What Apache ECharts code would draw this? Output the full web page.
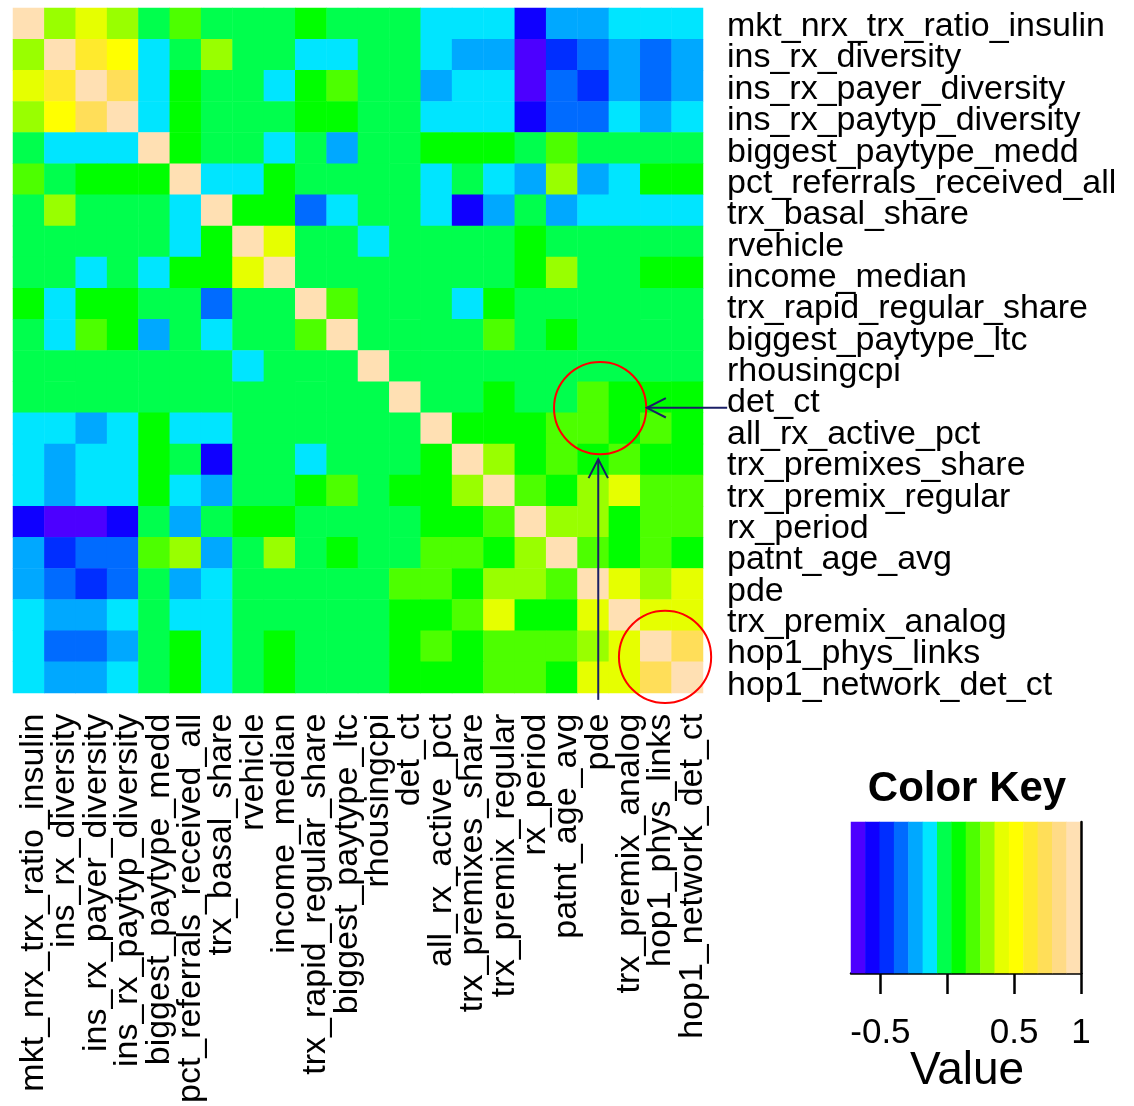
<!DOCTYPE html>
<html>
<head>
<meta charset="utf-8">
<script src="https://cdn.jsdelivr.net/npm/echarts@6/dist/echarts.min.js"></script>
<style>
html,body{margin:0;padding:0;background:#ffffff;}
#c{width:1134px;height:1106px;}
</style>
</head>
<body>
<div id="c"></div>
<script>
const varNames = [
  "mkt_nrx_trx_ratio_insulin","ins_rx_diversity","ins_rx_payer_diversity","ins_rx_paytyp_diversity",
  "biggest_paytype_medd","pct_referrals_received_all","trx_basal_share","rvehicle","income_median",
  "trx_rapid_regular_share","biggest_paytype_ltc","rhousingcpi","det_ct","all_rx_active_pct",
  "trx_premixes_share","trx_premix_regular","rx_period","patnt_age_avg","pde","trx_premix_analog",
  "hop1_phys_links","hop1_network_det_ct"
];

// correlation matrix (rows top -> bottom, columns left -> right)
const corr = [
  [1,.30,.41,.30,-.02,.19,-.02,-.02,-.02,.08,-.02,-.02,-.02,-.13,-.13,-.13,-.56,-.24,-.24,-.13,-.13,-.13],
  [.30,1,.62,.52,-.13,-.02,.30,-.02,-.02,-.13,-.13,-.02,-.02,-.13,-.24,-.24,-.66,-.45,-.34,-.24,-.34,-.24],
  [.41,.62,1,.73,-.13,.08,-.02,-.02,-.13,.08,.19,-.02,-.02,-.24,-.13,-.13,-.66,-.34,-.45,-.24,-.34,-.24],
  [.30,.52,.73,1,-.13,.08,-.02,-.02,-.02,.08,.08,-.02,-.02,-.13,-.13,-.13,-.56,-.34,-.34,-.13,-.24,-.13],
  [-.02,-.13,-.13,-.13,1,.08,-.02,-.02,-.13,-.02,-.24,-.02,-.02,.08,.08,.08,-.02,.19,-.02,-.02,-.02,-.02],
  [.19,-.02,.08,.08,.08,1,-.13,-.13,.08,-.02,-.02,-.02,-.02,-.13,-.02,-.13,-.24,.30,-.24,-.13,.08,.08],
  [-.02,.30,-.02,-.02,-.02,-.13,1,.08,.08,-.34,-.13,-.02,-.02,-.13,-.56,-.24,-.02,-.24,-.13,-.13,-.13,-.13],
  [-.02,-.02,-.02,-.02,-.02,-.13,.08,1,.41,-.02,-.02,-.13,-.02,-.02,-.02,-.02,.08,-.02,-.02,-.02,-.02,-.02],
  [-.02,-.02,-.13,-.02,-.13,.08,.08,.41,1,-.02,-.02,-.02,-.02,-.02,-.02,-.02,.08,.30,-.02,-.02,.08,.08],
  [.08,-.13,.08,.08,-.02,-.02,-.34,-.02,-.02,1,.19,-.02,-.02,-.02,-.13,.08,-.02,-.02,-.02,-.02,-.02,-.02],
  [-.02,-.13,.19,.08,-.24,-.02,-.13,-.02,-.02,.19,1,-.02,-.02,-.02,-.02,.19,-.02,.08,-.02,-.02,-.02,-.02],
  [-.02,-.02,-.02,-.02,-.02,-.02,-.02,-.13,-.02,-.02,-.02,1,-.02,-.02,-.02,-.02,-.02,-.02,-.02,-.02,-.02,-.02],
  [-.02,-.02,-.02,-.02,-.02,-.02,-.02,-.02,-.02,-.02,-.02,-.02,1,-.02,-.02,.08,-.02,-.02,.19,.08,.08,.08],
  [-.13,-.13,-.24,-.13,.08,-.13,-.13,-.02,-.02,-.02,-.02,-.02,-.02,1,.08,.08,.08,.19,.19,.08,.19,.08],
  [-.13,-.24,-.13,-.13,.08,-.02,-.56,-.02,-.02,-.13,-.02,-.02,-.02,.08,1,.30,.08,.19,.08,.19,.08,.08],
  [-.13,-.24,-.13,-.13,.08,-.13,-.24,-.02,-.02,.08,.19,-.02,.08,.08,.30,1,.19,.08,.30,.41,.19,.19],
  [-.56,-.66,-.66,-.56,-.02,-.24,-.02,.08,.08,-.02,-.02,-.02,-.02,.08,.08,.19,1,.30,.30,.08,.19,.19],
  [-.24,-.45,-.34,-.34,.19,.30,-.24,-.02,.30,-.02,.08,-.02,-.02,.19,.19,.08,.30,1,.19,.08,.19,.08],
  [-.24,-.34,-.45,-.34,-.02,-.24,-.13,-.02,-.02,-.02,-.02,-.02,.19,.19,.08,.30,.30,.19,1,.41,.30,.41],
  [-.13,-.24,-.24,-.13,-.02,-.13,-.13,-.02,-.02,-.02,-.02,-.02,.08,.08,.19,.41,.08,.08,.41,1,.41,.41],
  [-.13,-.34,-.34,-.24,-.02,.08,-.13,-.02,.08,-.02,-.02,-.02,.08,.19,.08,.19,.19,.19,.30,.41,1,.73],
  [-.13,-.24,-.24,-.13,-.02,.08,-.13,-.02,.08,-.02,-.02,-.02,.08,.08,.08,.19,.19,.08,.41,.41,.73,1]
];

// colour key: 16 bins (topo.colors(16))
const keyBreaks = [-0.72,-0.6125,-0.505,-0.3975,-0.29,-0.1825,-0.075,0.0325,0.14,0.2475,0.355,0.4625,0.57,0.6775,0.785,0.8925,1.0];
const keyColors = ["#4C00FF","#0F00FF","#002EFF","#006BFF","#00A8FF","#00E5FF","#00FF4D","#00FF00",
                   "#4DFF00","#99FF00","#E6FF00","#FFFF00","#FFEA2D","#FFDE59","#FFDB86","#FFE0B3"];
const keyTicks = [-0.5, 0, 0.5, 1];
const keyTickLabels = [-0.5, 0.5, 1];

const FONT = "'Liberation Sans', Arial, Helvetica, sans-serif";

const heatData = [];
for (let r = 0; r < corr.length; r++) {
  for (let c = 0; c < corr[r].length; c++) {
    heatData.push([c, r, corr[r][c]]);
  }
}
const keyData = keyColors.map((col, i) => [i, 0, (keyBreaks[i] + keyBreaks[i + 1]) / 2]);

const pieces = keyColors.map((col, i) => {
  const p = { gte: keyBreaks[i], color: col };
  if (i === keyColors.length - 1) p.lte = keyBreaks[i + 1]; else p.lt = keyBreaks[i + 1];
  return p;
});

const chart = echarts.init(document.getElementById('c'), null, { renderer: 'canvas' });

const hidden = { show: false };
const option = {
  animation: false,
  backgroundColor: '#ffffff',
  textStyle: { fontFamily: FONT },
  grid: [
    { left: 13, top: 8, width: 690, height: 685 },      // heatmap
    { left: 851, top: 822, width: 230, height: 151 },   // colour key
    { left: 18, top: 8, width: 690, height: 685 },      // column labels
    { left: 13, top: 11, width: 690, height: 690 }      // row labels
  ],
  xAxis: [
    { type: 'category', gridIndex: 0, data: varNames, show: false },
    { type: 'category', gridIndex: 1, data: keyColors.map((c, i) => i), position: 'top', show: false },
    {
      type: 'value', gridIndex: 1, position: 'bottom',
      min: keyBreaks[0], max: keyBreaks[keyBreaks.length - 1],
      splitLine: hidden,
      axisLine: { show: true, onZero: false, lineStyle: { color: '#000', width: 2.5 } },
      axisTick: { show: true, customValues: keyTicks, length: 21, lineStyle: { color: '#000', width: 2.5 } },
      axisLabel: {
        customValues: keyTickLabels, margin: 43, fontSize: 35, color: '#000', fontFamily: FONT,
        formatter: v => String(v)
      }
    },
    {
      type: 'category', gridIndex: 2, data: varNames, position: 'bottom',
      axisLine: hidden, axisTick: hidden, splitLine: hidden,
      axisLabel: { rotate: 90, interval: 0, margin: 26, fontSize: 34, color: '#000', fontFamily: FONT }
    },
    { type: 'category', gridIndex: 3, data: varNames, show: false }
  ],
  yAxis: [
    { type: 'category', gridIndex: 0, data: varNames, inverse: true, show: false },
    {
      type: 'category', gridIndex: 1, data: ['key'], position: 'right',
      axisLine: { show: true, onZero: false, lineStyle: { color: '#000', width: 2.5 } },
      axisTick: hidden, axisLabel: hidden, splitLine: hidden, z: 5
    },
    { type: 'category', gridIndex: 2, data: varNames, inverse: true, show: false },
    {
      type: 'category', gridIndex: 3, data: varNames, inverse: true, position: 'right',
      axisLine: hidden, axisTick: hidden, splitLine: hidden,
      axisLabel: { interval: 0, margin: 24, fontSize: 34, color: '#000', fontFamily: FONT }
    }
  ],
  visualMap: {
    type: 'piecewise', show: false, seriesIndex: [0, 1], dimension: 2, pieces: pieces
  },
  series: [
    {
      type: 'heatmap', xAxisIndex: 0, yAxisIndex: 0, data: heatData,
      emphasis: { disabled: true }, itemStyle: { borderWidth: 0 }, silent: true
    },
    {
      type: 'heatmap', xAxisIndex: 1, yAxisIndex: 1, data: keyData,
      emphasis: { disabled: true }, itemStyle: { borderWidth: 0 }, silent: true
    }
  ]
};

chart.setOption(option);

// annotations (red circles, navy arrows) placed in cell units of the heatmap grid
const p0 = chart.convertToPixel({ xAxisIndex: 0, yAxisIndex: 0 }, [0, 0]);
const p1 = chart.convertToPixel({ xAxisIndex: 0, yAxisIndex: 0 }, [21, 21]);
const cw = (p1[0] - p0[0]) / 21, ch = (p1[1] - p0[1]) / 21;
const X = u => p0[0] - cw / 2 + u * cw;
const Y = v => p0[1] - ch / 2 + v * ch;
const NAVY = '#1b1f66';
const R = 1.47 * cw;
const head = 19, hw = 9.7;

const hy = Y(12.84), hTip = X(20.21), hTail = X(22.77);
const vx = X(18.66), vTip = Y(14.49), vTail = Y(22.22);

chart.setOption({
  graphic: [
    { type: 'circle', z: 100, shape: { cx: X(18.72), cy: Y(12.85), r: R }, style: { fill: null, stroke: '#ff0000', lineWidth: 2 } },
    { type: 'circle', z: 100, shape: { cx: X(20.79), cy: Y(20.84), r: R }, style: { fill: null, stroke: '#ff0000', lineWidth: 2 } },
    { type: 'polyline', z: 101, shape: { points: [[hTail, hy], [hTip, hy]] }, style: { stroke: NAVY, lineWidth: 2, fill: null } },
    { type: 'polyline', z: 101, shape: { points: [[hTip + head, hy - hw], [hTip, hy], [hTip + head, hy + hw]] }, style: { stroke: NAVY, lineWidth: 2, fill: null } },
    { type: 'polyline', z: 101, shape: { points: [[vx, vTail], [vx, vTip]] }, style: { stroke: NAVY, lineWidth: 2, fill: null } },
    { type: 'polyline', z: 101, shape: { points: [[vx - hw, vTip + head], [vx, vTip], [vx + hw, vTip + head]] }, style: { stroke: NAVY, lineWidth: 2, fill: null } },
    { type: 'text', z: 100, x: 967, y: 789, style: { text: 'Color Key', fill: '#000', font: "bold 42px 'Liberation Sans', Arial, sans-serif", textAlign: 'center', textVerticalAlign: 'middle' } },
    { type: 'text', z: 100, x: 967, y: 1071, style: { text: 'Value', fill: '#000', font: "46px 'Liberation Sans', Arial, sans-serif", textAlign: 'center', textVerticalAlign: 'middle' } }
  ]
});
</script>
</body>
</html>
